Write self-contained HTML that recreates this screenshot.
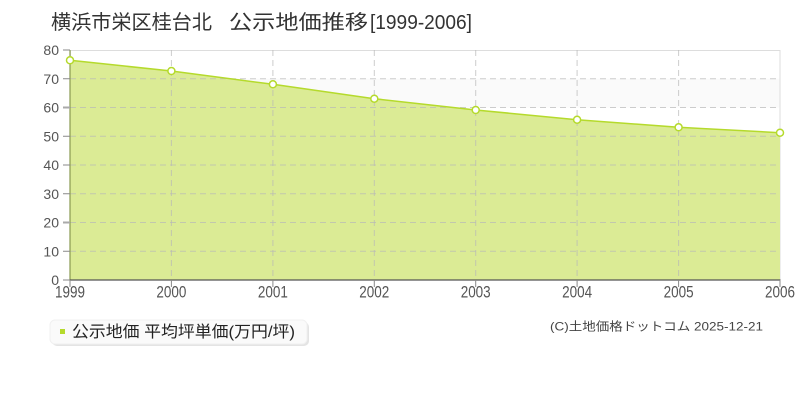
<!DOCTYPE html>
<html><head><meta charset="utf-8"><style>
html,body{margin:0;padding:0;background:#fff;}
svg{display:block;}
text{font-family:"Liberation Sans","Noto Sans CJK JP",sans-serif;}
</style></head><body>
<svg width="800" height="400" viewBox="0 0 800 400" xmlns="http://www.w3.org/2000/svg">
<rect x="0" y="0" width="800" height="400" fill="#fff"/>
<!-- title -->
<g fill="#333" font-size="20">
<text x="51" y="29" textLength="161" lengthAdjust="spacingAndGlyphs">横浜市栄区桂台北</text>
<text x="229" y="29" textLength="139" lengthAdjust="spacingAndGlyphs">公示地価推移</text>
<text x="370" y="29" textLength="102" lengthAdjust="spacingAndGlyphs">[1999-2006]</text>
</g>
<!-- plot background bands -->
<rect x="70" y="50" width="710" height="230" fill="#fff"/>
<rect x="70" y="78.75" width="710" height="28.75" fill="#fafafa"/>
<rect x="70" y="136.25" width="710" height="28.75" fill="#fafafa"/>
<rect x="70" y="193.75" width="710" height="28.75" fill="#fafafa"/>
<rect x="70" y="251.25" width="710" height="28.75" fill="#fafafa"/>
<!-- border -->
<rect x="70.5" y="50.5" width="709.5" height="229.5" fill="none" stroke="#ddd" stroke-width="1"/>
<!-- area -->
<polygon points="70,60.3 171.4,71 272.9,84.3 374.3,98.7 475.7,110 577.1,119.7 678.6,127.3 780,132.7 780,280 70,280" fill="#dbeb95"/>
<!-- grid -->
<g stroke="#b8b8b8" stroke-opacity="0.7" stroke-width="1" stroke-dasharray="6,4" fill="none">
<line x1="70" y1="78.75" x2="780" y2="78.75"/>
<line x1="70" y1="107.5" x2="780" y2="107.5"/>
<line x1="70" y1="136.25" x2="780" y2="136.25"/>
<line x1="70" y1="165" x2="780" y2="165"/>
<line x1="70" y1="193.75" x2="780" y2="193.75"/>
<line x1="70" y1="222.5" x2="780" y2="222.5"/>
<line x1="70" y1="251.25" x2="780" y2="251.25"/>
<line x1="171.4" y1="50" x2="171.4" y2="280"/>
<line x1="272.9" y1="50" x2="272.9" y2="280"/>
<line x1="374.3" y1="50" x2="374.3" y2="280"/>
<line x1="475.7" y1="50" x2="475.7" y2="280"/>
<line x1="577.1" y1="50" x2="577.1" y2="280"/>
<line x1="678.6" y1="50" x2="678.6" y2="280"/>
</g>
<!-- line -->
<polyline points="70,60.3 171.4,71 272.9,84.3 374.3,98.7 475.7,110 577.1,119.7 678.6,127.3 780,132.7" fill="none" stroke="#b5da2c" stroke-width="1.5"/>
<!-- axes -->
<line x1="70" y1="50" x2="70" y2="280.5" stroke="#8a9a50" stroke-width="1.2"/>
<line x1="69.5" y1="280" x2="780.5" y2="280" stroke="#555" stroke-width="1.2"/>
<g stroke="#888" stroke-width="1">
<line x1="63" y1="50" x2="70" y2="50"/>
<line x1="63" y1="78.75" x2="70" y2="78.75"/>
<line x1="63" y1="107.5" x2="70" y2="107.5" stroke="#aaa" stroke-width="2"/>
<line x1="63" y1="136.25" x2="70" y2="136.25"/>
<line x1="63" y1="165" x2="70" y2="165"/>
<line x1="63" y1="193.75" x2="70" y2="193.75"/>
<line x1="63" y1="222.5" x2="70" y2="222.5" stroke="#aaa" stroke-width="2"/>
<line x1="63" y1="251.25" x2="70" y2="251.25"/>
<line x1="63" y1="280" x2="70" y2="280"/>
<line x1="70" y1="280" x2="70" y2="287"/>
<line x1="171.4" y1="280" x2="171.4" y2="287"/>
<line x1="272.9" y1="280" x2="272.9" y2="287"/>
<line x1="374.3" y1="280" x2="374.3" y2="287"/>
<line x1="475.7" y1="280" x2="475.7" y2="287"/>
<line x1="577.1" y1="280" x2="577.1" y2="287"/>
<line x1="678.6" y1="280" x2="678.6" y2="287"/>
<line x1="780" y1="280" x2="780" y2="287"/>
</g>
<!-- points -->
<g fill="#fff" stroke="#b5da2c" stroke-width="1.5">
<circle cx="70" cy="60.3" r="3.5"/>
<circle cx="171.4" cy="71" r="3.5"/>
<circle cx="272.9" cy="84.3" r="3.5"/>
<circle cx="374.3" cy="98.7" r="3.5"/>
<circle cx="475.7" cy="110" r="3.5"/>
<circle cx="577.1" cy="119.7" r="3.5"/>
<circle cx="678.6" cy="127.3" r="3.5"/>
<circle cx="780" cy="132.7" r="3.5"/>
</g>
<!-- y labels -->
<g fill="#555" font-size="14" text-anchor="end">
<text x="59" y="55">80</text>
<text x="59" y="84">70</text>
<text x="59" y="112.5">60</text>
<text x="59" y="141.5">50</text>
<text x="59" y="170">40</text>
<text x="59" y="199">30</text>
<text x="59" y="227.5">20</text>
<text x="59" y="256.5">10</text>
<text x="59" y="285">0</text>
</g>
<!-- x labels -->
<g fill="#555" font-size="17">
<text x="55" y="297.5" textLength="30" lengthAdjust="spacingAndGlyphs">1999</text>
<text x="156.4" y="297.5" textLength="30" lengthAdjust="spacingAndGlyphs">2000</text>
<text x="257.9" y="297.5" textLength="30" lengthAdjust="spacingAndGlyphs">2001</text>
<text x="359.3" y="297.5" textLength="30" lengthAdjust="spacingAndGlyphs">2002</text>
<text x="460.7" y="297.5" textLength="30" lengthAdjust="spacingAndGlyphs">2003</text>
<text x="562.1" y="297.5" textLength="30" lengthAdjust="spacingAndGlyphs">2004</text>
<text x="663.6" y="297.5" textLength="30" lengthAdjust="spacingAndGlyphs">2005</text>
<text x="765" y="297.5" textLength="30" lengthAdjust="spacingAndGlyphs">2006</text>
</g>
<!-- legend -->
<rect x="52" y="322" width="257" height="24" rx="5" fill="#e4e4e4"/>
<rect x="50" y="320" width="257" height="24" rx="5" fill="#fafafa" stroke="#f0f0f0"/>
<rect x="60" y="329" width="5" height="5" fill="#b5da2c"/>
<text x="72" y="337" font-size="16" fill="#222" textLength="223" lengthAdjust="spacingAndGlyphs">公示地価 平均坪単価(万円/坪)</text>
<!-- copyright -->
<text x="550" y="330.5" font-size="12" fill="#444" textLength="213" lengthAdjust="spacingAndGlyphs">(C)土地価格ドットコム 2025-12-21</text>
</svg>
</body></html>
